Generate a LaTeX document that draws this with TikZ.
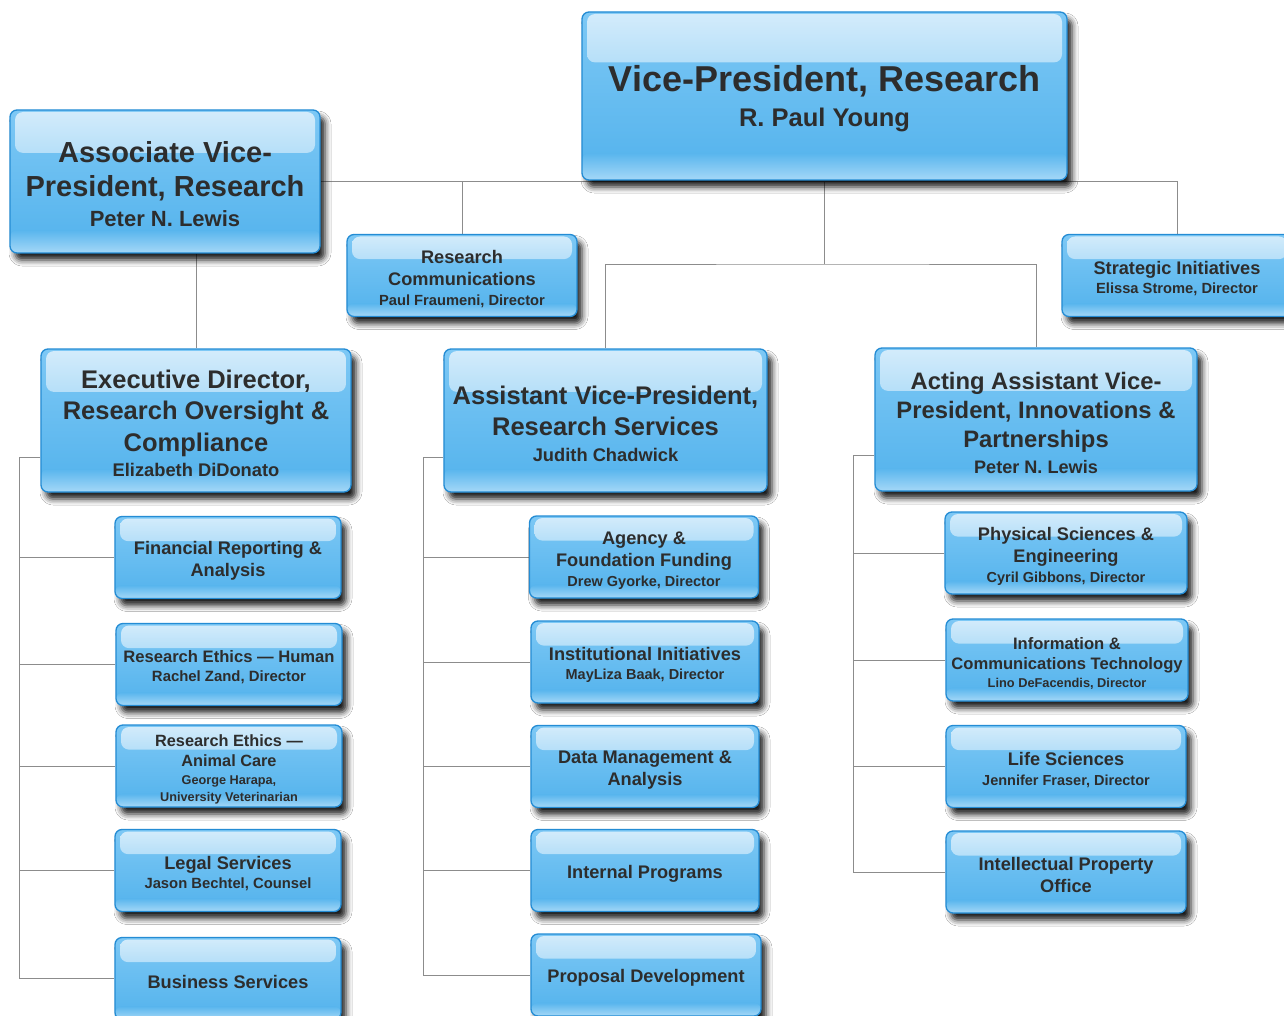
\documentclass[tikz,border=0pt]{standalone}
\usepackage{fontspec}
\setmainfont{Liberation Sans}
\usepackage{xcolor}
\usetikzlibrary{calc,backgrounds,shadows.blur}

\definecolor{boxtop}{RGB}{125,200,245}
\definecolor{boxbottom}{RGB}{82,178,236}
\definecolor{boxedge}{RGB}{36,140,212}
\definecolor{glosstop}{RGB}{212,236,251}
\definecolor{glosslow}{RGB}{165,216,247}
\definecolor{ink}{RGB}{45,45,45}
\definecolor{wire}{RGB}{140,140,140}

% font size and line skip of a box
\newcommand{\boxfont}[2]{\fontsize{#1}{#2}\selectfont\bfseries}
% smaller line with the name
\newcommand{\namefont}[1]{\fontsize{#1}{#1}\selectfont}
% a little room above the first line
\newcommand{\padtop}{\rule{0pt}{\dimexpr0.73em+6pt\relax}}

\begin{document}
\begin{tikzpicture}[
    % GLOBAL CFG
    x=1pt, y=-1pt,
    % Styles
    unit/.style={% For every box
        rectangle,
        rounded corners=7pt,
        draw=boxedge,
        line width=1.3pt,
        top color=boxtop,
        bottom color=boxbottom,
        blur shadow={shadow xshift=5pt, shadow yshift=-7pt, shadow blur radius=6pt, shadow opacity=90},
        text=ink,
        align=center,
        inner sep=0pt,
        path picture={% glossy bands
            \shade [top color=glosstop, bottom color=boxtop!70!boxbottom, rounded corners=8pt]
                ([xshift=5pt, yshift=-2pt]path picture bounding box.north west) rectangle
                ([xshift=-5pt]$(path picture bounding box.north east)!0.30!(path picture bounding box.south east)$);
            \shade [top color=boxtop!16!boxbottom, bottom color=glosslow]
                ($(path picture bounding box.north west)!0.84!(path picture bounding box.south west)$) rectangle
                (path picture bounding box.south east);
            },
        },
    big/.style={unit, minimum height=143pt},
    small/.style={unit, minimum height=82pt, font=\boxfont{18.2}{22}},
    link/.style={% thin gray connectors
        draw=wire,
        line width=0.9pt,
        },
    ]

\useasboundingbox (0,0) rectangle (1284,1016);
\clip (0,0) rectangle (1284,1016);

    % Top of the chart
    \node [unit, minimum width=485pt, minimum height=168pt, font=\boxfont{36}{35}] (vp) at (824.5,96)
        {\padtop Vice-President, Research\\{\namefont{25.5}R. Paul Young}};
    \node [big, minimum width=310pt, font=\boxfont{29}{34}] (avp) at (165,181.5)
        {\padtop Associate Vice-\\President, Research\\[-4pt]{\namefont{22}Peter N. Lewis}};
    \node [small, minimum width=230pt] (comms) at (462,275.5)
        {\padtop Research\\Communications\\[-2pt]{\namefont{14.7}Paul Fraumeni, Director}};
    \node [small, minimum width=230pt] (strat) at (1177,275.5)
        {\padtop Strategic Initiatives\\[-3pt]{\namefont{14.7}Elissa Strome, Director}};

    % Second level
    \node [big, minimum width=310pt, font=\boxfont{25.5}{31.5}] (exec) at (196,420.5)
        {\padtop Executive Director,\\Research Oversight \&\\Compliance\\[-6pt]{\namefont{18.3}Elizabeth DiDonato}};
    \node [big, minimum width=323pt, font=\boxfont{25.5}{31}] (avprs) at (605.5,420.5)
        {\padtop Assistant Vice-President,\\Research Services\\[-5pt]{\namefont{18.3}Judith Chadwick}};
    \node [big, minimum width=322pt, font=\boxfont{23.8}{29}] (acting) at (1036,419.5)
        {\padtop Acting Assistant Vice-\\President, Innovations \&\\Partnerships\\[-3pt]{\namefont{18.1}Peter N. Lewis}};

    % Left column
    \node [small, minimum width=226pt] (fin) at (228,557.5) {\padtop Financial Reporting \&\\Analysis};
    \node [small, minimum width=226pt, font=\boxfont{16.6}{19}] (ethh) at (229,664.5)
        {\padtop Research Ethics --- Human\\{\namefont{14.9}Rachel Zand, Director}};
    \node [small, minimum width=226pt, font=\boxfont{16.3}{20}] (etha) at (229,766)
        {\padtop Research Ethics ---\\Animal Care\\[-2pt]{\namefont{12.7}George Harapa,}\\[-3pt]{\namefont{12.7}University Veterinarian}};
    \node [small, minimum width=226pt] (legal) at (228,870.5)
        {\padtop Legal Services\\[-3pt]{\namefont{14.8}Jason Bechtel, Counsel}};
    \node [small, minimum width=226pt] (busi) at (228,978.5) {\padtop Business Services};

    % Middle column
    \node [small, minimum width=229pt] (agency) at (644,557)
        {\padtop Agency \&\\Foundation Funding\\[-2pt]{\namefont{14.5}Drew Gyorke, Director}};
    \node [small, minimum width=228pt] (inst) at (645,662)
        {\padtop Institutional Initiatives\\[-3pt]{\namefont{14.5}MayLiza Baak, Director}};
    \node [small, minimum width=228pt] (data) at (645,766.5) {\padtop Data Management \&\\Analysis};
    \node [small, minimum width=228pt] (internal) at (645,870.5) {\padtop Internal Programs};
    \node [small, minimum width=230pt] (proposal) at (646,975) {\padtop Proposal Development};

    % Right column
    \node [small, minimum width=242pt] (phys) at (1066,553)
        {\padtop Physical Sciences \&\\Engineering\\[-2pt]{\namefont{14.5}Cyril Gibbons, Director}};
    \node [small, minimum width=242pt, font=\boxfont{16.6}{20}] (ict) at (1067,660)
        {\padtop Information \&\\Communications Technology\\[-2pt]{\namefont{12.8}Lino DeFacendis, Director}};
    \node [small, minimum width=240pt] (life) at (1066,766.5)
        {\padtop Life Sciences\\[-2pt]{\namefont{14.5}Jennifer Fraser, Director}};
    \node [small, minimum width=240pt] (ip) at (1066,872) {\padtop Intellectual Property\\Office};

    % bus points
    \coordinate (vpbus) at (824.5,264);
    \coordinate (execbus) at (19,457);
    \coordinate (rsbus) at (423,457);
    \coordinate (ipbus) at (853,455);

    % Connectors, behind the boxes
    \begin{scope}[on background layer]
    \fill [white] (0,0) rectangle (1284,1016);
    \draw [link] (avp.east) -| (strat.north);
    \draw [link] (comms.north) -- (comms.north |- avp.east);
    \draw [link] (vp.south) -- (vpbus);
    \draw [link] (avprs.north) |- (vpbus) -| (acting.north);
    \draw [link] (exec.north) -- (exec.north |- avp.south);

    \draw [link] (execbus -| exec.west) -- (execbus) |- (busi.west);
    \foreach \n in {fin, ethh, etha, legal}
        \draw [link] (execbus |- \n.west) -- (\n.west);

    \draw [link] (rsbus -| avprs.west) -- (rsbus) |- (proposal.west);
    \foreach \n in {agency, inst, data, internal}
        \draw [link] (rsbus |- \n.west) -- (\n.west);

    \draw [link] (ipbus -| acting.west) -- (ipbus) |- (ip.west);
    \foreach \n in {phys, ict, life}
        \draw [link] (ipbus |- \n.west) -- (\n.west);
    \end{scope}

\end{tikzpicture}
\end{document}
